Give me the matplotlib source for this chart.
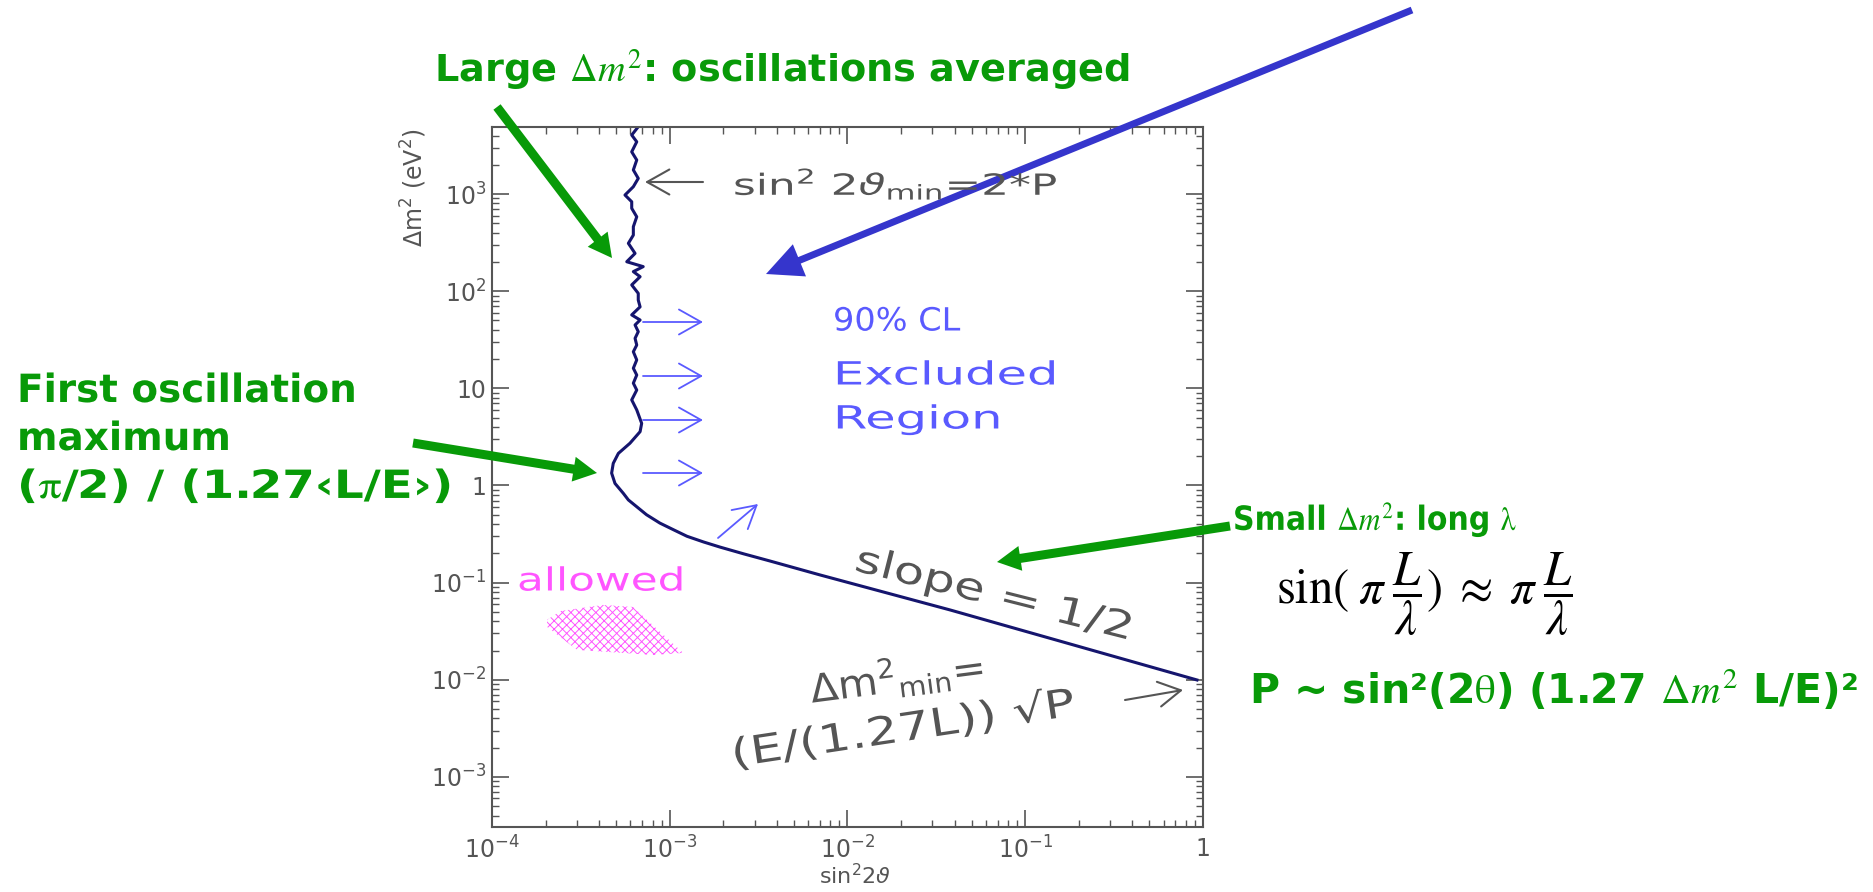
import matplotlib
matplotlib.use('Agg')
import matplotlib.pyplot as plt
from matplotlib.patches import FancyArrowPatch
from matplotlib.patheffects import AbstractPathEffect
from matplotlib.transforms import Affine2D
from matplotlib.ticker import NullFormatter

W, H = 1874, 892

# 90% CL limit curve (sin^2 2theta, dm^2 in eV^2)
sens_x = [6.65e-4, 6.11e-4, 6.52e-4, 6.11e-4, 6.52e-4, 6.24e-4, 6.65e-4, 6.24e-4, 5.60e-4, 6.11e-4,
          6.11e-4, 6.52e-4, 6.24e-4, 6.24e-4, 5.85e-4, 6.38e-4, 5.73e-4, 7.09e-4, 6.24e-4, 6.81e-4,
          6.11e-4, 6.65e-4, 6.65e-4, 6.81e-4, 6.11e-4, 6.81e-4, 6.38e-4, 6.65e-4, 6.38e-4, 6.52e-4,
          6.24e-4, 6.52e-4, 6.24e-4, 6.52e-4, 6.24e-4, 6.52e-4, 6.11e-4, 6.52e-4, 6.95e-4, 6.81e-4,
          5.97e-4, 5.14e-4, 4.81e-4, 4.71e-4, 4.92e-4, 5.48e-4, 5.85e-4, 6.55e-4, 7.4e-4, 8.8e-4,
          1.05e-3, 1.25e-3, 1.55e-3, 1.92e-3, 2.6e-3, 3.66e-3, 7.0e-3, 3.78e-2, 0.925]
sens_y = [4930, 4050, 3450, 2720, 2240, 1770, 1450, 1190, 977, 833,
          713, 583, 461, 378, 311, 245, 201, 179, 159, 141,
          116, 95, 81, 69, 57, 50.5, 44.9, 38.3, 32.7, 27.9,
          23.8, 19.6, 16.1, 13.7, 11.3, 9.6, 7.6, 6.0, 4.36, 3.58,
          2.72, 2.14, 1.69, 1.34, 1.05, 0.83, 0.71, 0.60, 0.50, 0.41,
          0.35, 0.30, 0.262, 0.232, 0.198, 0.167, 0.12, 0.0523, 0.00995]

# "allowed" island
allowed_x = [2.04e-4, 2.42e-4, 4.21e-4, 6.21e-4, 1.19e-3, 8.05e-4, 3.01e-4, 2.04e-4]
allowed_y = [0.0413, 0.051, 0.0589, 0.0562, 0.0189, 0.0180, 0.0203, 0.035]

xticks = [1e-4, 1e-3, 1e-2, 1e-1, 1]
xtick_labels = [r'$10^{-4}$', r'$10^{-3}$', r'$10^{-2}$', r'$10^{-1}$', '1']
yticks = [1e-3, 1e-2, 1e-1, 1, 10, 1e2, 1e3]
ytick_labels = [r'$10^{-3}$', r'$10^{-2}$', r'$10^{-1}$', '1', '10', r'$10^2$', r'$10^3$']

green = '#089a08'
gray = '#555555'
lblue = '#5a5aff'
magenta = '#ff55ff'


class Wide(AbstractPathEffect):
    # the old plot font is much wider than DejaVu, stretch the glyphs sideways
    def __init__(self, sx):
        super().__init__()
        self.sx = sx

    def draw_path(self, renderer, gc, tpath, affine, rgbFace=None):
        renderer.draw_path(gc, tpath, Affine2D().scale(self.sx, 1) + affine, rgbFace)


plt.rcParams['hatch.linewidth'] = 0.7

fig = plt.figure(figsize=(W / 100, H / 100), dpi=100)
ax = fig.add_axes([492 / W, 1 - 827 / H, (1203 - 492) / W, (827 - 127) / H])
ax.set_xscale('log')
ax.set_yscale('log')
ax.set_xlim(1e-4, 1)
ax.set_ylim(3.05e-4, 4.9e3)

ax.plot(sens_x, sens_y, color='#15156e', lw=2.2)
ax.fill(allowed_x, allowed_y, facecolor='none', edgecolor=magenta, hatch='xxxx', lw=0)

ax.set_xticks(xticks, xtick_labels)
ax.set_yticks(yticks, ytick_labels)
ax.xaxis.set_minor_formatter(NullFormatter())
ax.yaxis.set_minor_formatter(NullFormatter())
ax.tick_params(which='both', direction='in', top=True, right=True, color=gray,
               labelcolor=gray, labelsize=17)
ax.tick_params(which='major', length=12, width=1.2)
ax.tick_params(which='minor', length=5, width=1.0)
ax.tick_params(axis='x', pad=7)
ax.tick_params(axis='y', pad=4)
for s in ax.spines.values():
    s.set_color(gray)
    s.set_linewidth(1.5)

ax.set_xlabel(r'sin$^2$2$\vartheta$', fontsize=16, color=gray)
ax.xaxis.set_label_coords(0.51, -0.052)
ax.set_ylabel(r'$\Delta$m$^2$ (eV$^2$)', fontsize=17, color=gray)
ax.yaxis.set_label_coords(-0.088, 0.913)

# overlay in pixel units for all the annotations
ov = fig.add_axes([0, 0, 1, 1])
ov.set_xlim(0, W)
ov.set_ylim(H, 0)
ov.axis('off')
ov.patch.set_alpha(0)

# gray labels from the original plot
ov.text(733, 195, r'sin$^2$ 2$\vartheta_{\rm min}$=2*P', fontsize=21, color=gray,
        path_effects=[Wide(1.5)])
ov.text(853, 570, 'slope = 1/2', fontsize=27, color=gray, rotation=-14.2,
        rotation_mode='anchor', path_effects=[Wide(1.33)])
ov.text(812, 703, r'$\Delta$m$^2$$_{\rm min}$=', fontsize=28, color=gray, rotation=7.4,
        rotation_mode='anchor', path_effects=[Wide(1.05)])
ov.text(733, 767, '(E/(1.27L)) \u221aP', fontsize=28, color=gray, rotation=8.6,
        rotation_mode='anchor', path_effects=[Wide(1.3)])
ov.text(517, 582, 'allowed', fontsize=23, color=magenta, va='center',
        path_effects=[Wide(1.37)])
for s, y, sx in zip(['90% CL', 'Excluded', 'Region'], [322, 376, 420], [1.05, 1.55, 1.55]):
    ov.text(833, y, s, fontsize=23, color=lblue, va='center', path_effects=[Wide(sx)])

# thin arrows inside the plot
thin_arrows = [((643, 322), (703, 322)), ((643, 376), (703, 376)), ((643, 420), (703, 420)),
               ((643, 473), (703, 473)), ((718, 538), (758, 504))]
for a, b in thin_arrows:
    ov.add_patch(FancyArrowPatch(a, b, arrowstyle='->,head_length=0.8,head_width=0.45',
                                 mutation_scale=20, color=lblue, lw=1.3, shrinkA=0, shrinkB=0))
for a, b in [((703, 182), (645, 182)), ((1125, 700), (1183, 690))]:
    ov.add_patch(FancyArrowPatch(a, b, arrowstyle='->,head_length=0.8,head_width=0.45',
                                 mutation_scale=20, color=gray, lw=1.5, shrinkA=0, shrinkB=0))

# green slide annotations
ov.text(434, 82, r'Large $\Delta m^2$: oscillations averaged', fontsize=27.5, color=green,
        fontweight='bold', math_fontfamily='stix')
first_lines = ['First oscillation', 'maximum', '($\\mathrm{\\pi}$/2) / (1.27\u2039L/E\u203a)']
for s, y, sx in zip(first_lines, [402, 450, 498], [1.0, 1.0, 1.2]):
    ov.text(17, y, s, fontsize=28, color=green, fontweight='bold', math_fontfamily='stix',
            path_effects=[Wide(sx)])
ov.text(1233, 530, r'Small $\Delta m^2$: long $\mathrm{\lambda}$', fontsize=24, color=green,
        fontweight='bold', math_fontfamily='stix', path_effects=[Wide(0.9)])
ov.text(1276, 594, r'$\sin(\;\pi\;\dfrac{L}{\lambda})\;\approx\;\pi\;\dfrac{L}{\lambda}$', fontsize=35,
        color='black', math_fontfamily='stix', va='center')
ov.text(1249, 703, 'P ~ sin\u00b2(2$\\mathrm{\\theta}$) (1.27 $\\Delta m^2$ L/E)\u00b2', fontsize=29.5,
        color=green, fontweight='bold', math_fontfamily='stix')

green_arrows = [((497, 107), (612, 258)), ((413, 443), (597, 473)), ((1230, 526), (997, 562))]
for a, b in green_arrows:
    ov.add_patch(FancyArrowPatch(a, b, arrowstyle='simple,head_length=1.7,head_width=1.8,tail_width=0.65',
                                 mutation_scale=10, color=green, lw=0, shrinkA=0, shrinkB=0))
ov.add_patch(FancyArrowPatch((1412, 10), (766, 274),
                             arrowstyle='simple,head_length=2.6,head_width=2.5,tail_width=0.5',
                             mutation_scale=10, color='#3535cc', lw=0, shrinkA=0, shrinkB=0))

fig.savefig('out.png', dpi=100)
